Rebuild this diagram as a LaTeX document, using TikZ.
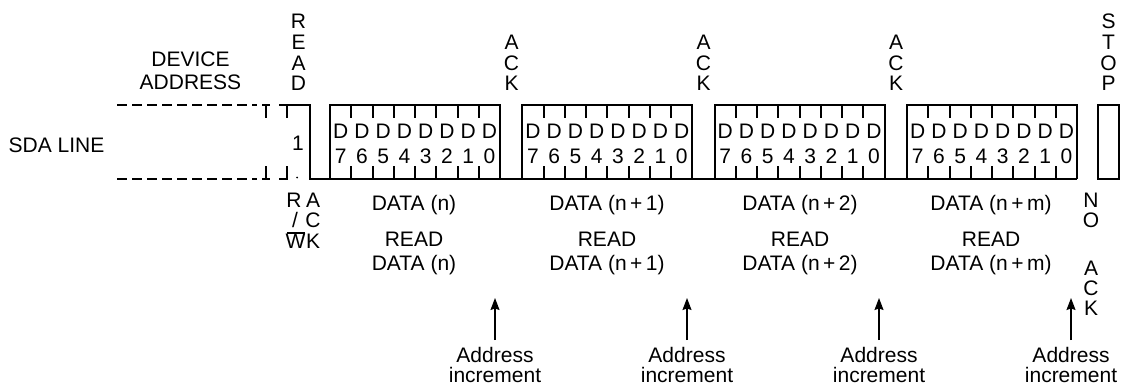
\documentclass[tikz,border=0pt]{standalone}
\usepackage{fontspec}
\setmainfont{Liberation Sans}
\usetikzlibrary{arrows.meta}
\begin{document}
\begin{tikzpicture}[x=1pt,y=-1pt,
  lbl/.style={font=\fontsize{21}{24}\selectfont, inner sep=0pt, anchor=base},
  wave/.style={line width=2pt, line join=miter, line cap=butt},
  tk/.style={line width=2pt},
  dsh/.style={line width=2pt, dash pattern=on 9.5pt off 5.5pt},
  inc/.style={line width=1.2pt, -{Stealth[length=12pt,width=9pt,inset=1.5pt]}}]
\useasboundingbox (0,0) rectangle (1123,385);
% left dashed part
\draw[dsh] (117,105.5) -- (257,105.5);
\draw[dsh] (117,178.5) -- (257,178.5);
\draw[tk] (262,105.5) -- (269.5,105.5) (265.5,105.5) -- (265.5,118.5);
\draw[tk] (262,178.5) -- (269.5,178.5) (265.5,178.5) -- (265.5,165.5);
\draw[tk] (279,178.5) -- (287.5,178.5) (286.5,178.5) -- (286.5,165.5);
\draw[tk] (286.5,105.5) -- (286.5,118.5);
\fill (297,177.5) circle (1pt);
% main waveform
\draw[wave] (279,105.5) -- (309.5,105.5) -- (309.5,178.5) -- (1077,178.5);
\foreach \k in {0,...,3}{
  \pgfmathsetmacro\L{330+192.33*\k}
  \draw[wave] (\L,178.5) -- (\L,105.5) -- (\L+170,105.5) -- (\L+170,178.5);
  \foreach \j in {1,...,7}{
    \draw[tk] (\L+21.25*\j,105.5) -- (\L+21.25*\j,118.5)
              (\L+21.25*\j,178.5) -- (\L+21.25*\j,165.5);
  }
  \foreach \j in {0,...,7}{
    \pgfmathtruncatemacro\bit{7-\j}
    \node[lbl] (dd\k-\j) at (\L+21.25*\j+10.6,138.3) {D};
    \node[lbl] (dn\k-\j) at (\L+21.25*\j+10.6,163.3) {\bit};
  }
}
\draw[wave] (1098,105.5) rectangle (1119,178.5);
% left labels
\node[lbl] (sda) at (56.5,152) {SDA LINE};
\node[lbl] (one) at (298,150) {1};
\node[lbl] (dev) at (190.5,67) {DEVICE};
\node[lbl] (adr) at (190.5,89.5) {ADDRESS};
% vertical top labels
\foreach \ch [count=\i] in {R,E,A,D}
  \node[lbl] (rd\i) at (298.5,{91-20.7*(4-\i)}) {\ch};
\foreach \ch [count=\i] in {S,T,O,P}
  \node[lbl] (st\i) at (1108.5,{91-20.7*(4-\i)}) {\ch};
\foreach \x [count=\n] in {511.5,703.5,896}
  \foreach \ch [count=\i] in {A,C,K}
    \node[lbl] (ack\n-\i) at (\x,{91-20.7*(3-\i)}) {\ch};
% R/W and ACK below
\node[lbl] (rwr) at (294,207) {R};
\node[lbl] (rws) at (295,227) {/};
\node[lbl] (rww) at (295.5,248) {W};
\draw[line width=1.2pt] (287,233) -- (305,233);
\node[lbl] (ba1) at (313,207) {A};
\node[lbl] (ba2) at (313,227.5) {C};
\node[lbl] (ba3) at (313,248) {K};
% data labels
\foreach \t/\x [count=\n] in {n/414,n\,+\,1/607,n\,+\,2/800,n\,+\,m/991}{
  \node[lbl] (dt\n) at (\x,210) {DATA (\t)};
  \node[lbl] (rdh\n) at (\x,246) {READ};
  \node[lbl] (rdd\n) at (\x,270) {DATA (\t)};
}
% NO ACK
\node[lbl] (no1) at (1091,207) {N};
\node[lbl] (no2) at (1091,227) {O};
\node[lbl] (na1) at (1091,275) {A};
\node[lbl] (na2) at (1091,295) {C};
\node[lbl] (na3) at (1091,315) {K};
% address increment arrows
\foreach \x [count=\n] in {495,687,879,1071}{
  \coordinate (tail\n) at (\x,340);
  \coordinate (tip\n) at (\x,298);
  \draw[inc] (tail\n) -- (tip\n);
  \node[lbl] (ai\n) at (\x,362) {Address};
  \node[lbl] (aj\n) at (\x,382) {increment};
}
\end{tikzpicture}
\end{document}
